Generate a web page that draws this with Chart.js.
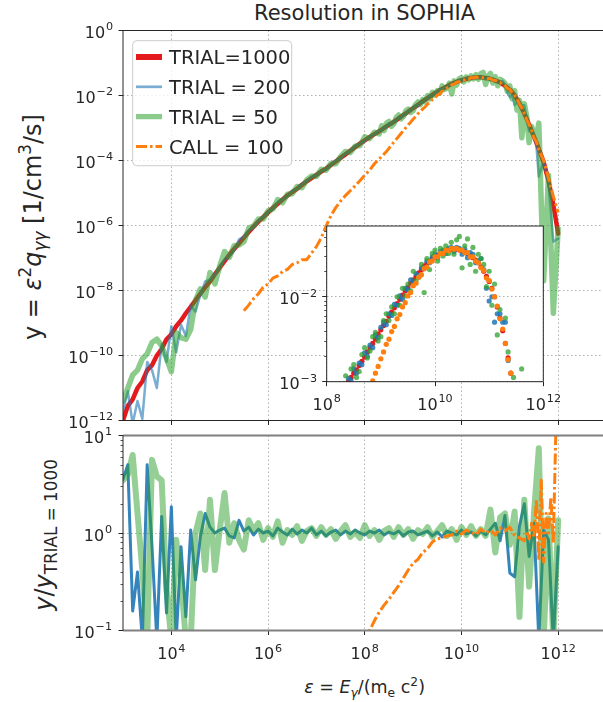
<!DOCTYPE html>
<html>
<head>
<meta charset="utf-8">
<script src="https://cdn.jsdelivr.net/npm/chart.js@4.4.1/dist/chart.umd.min.js"></script>
<style>
html,body{margin:0;padding:0;background:#fff;}
body{width:603px;height:702px;overflow:hidden;position:relative;font-family:"DejaVu Sans",sans-serif;color:#262626;}
canvas{position:absolute;}
.lbl{position:absolute;white-space:nowrap;line-height:1;}
.rot{transform:translate(-50%,-50%) rotate(-90deg);}
.sup{font-size:70%;position:relative;top:-0.6em;}
.sub{font-size:70%;position:relative;top:0.3em;}
</style>
</head>
<body>
<div class="lbl" style="left:364.6px;top:3.2px;font-size:21px;transform:translateX(-50%);">Resolution in SOPHIA</div>
<div class="lbl rot" style="left:33px;top:227px;font-size:24px;">y = <i>ε</i><span class="sup">2</span><i>q</i><span class="sub"><i>γγ</i></span> [1/cm<span class="sup">3</span>/s]</div>
<div class="lbl rot" style="left:44px;top:535px;font-size:24px;"><i>y</i>/<i>y</i><span class="sub">TRIAL = 1000</span></div>
<div class="lbl" style="left:364.6px;top:679.2px;font-size:17.5px;transform:translateX(-50%);"><i>ε</i> = <i>E</i><span class="sub"><i>γ</i></span>/(m<span class="sub">e</span> c<span class="sup">2</span>)</div>
<canvas id="cTop" width="650" height="440" style="left:0;top:0;"></canvas>
<canvas id="cBot" width="650" height="277" style="left:0;top:425px;"></canvas>
<canvas id="cIn" width="300" height="215" style="left:260px;top:210px;"></canvas>
<script>
// ---------------- data (log10 values) ----------------
const seriesLabels = ['TRIAL=1000', 'TRIAL = 200', 'TRIAL = 50', 'CALL = 100'];

const logEnergy = [3.0,3.1,3.2,3.3,3.4,3.5,3.6,3.7,3.8,3.9,4.0,4.1,4.2,4.3,4.4,4.5,4.6,4.7,4.8,4.9,
  5.0,5.1,5.2,5.3,5.4,5.5,5.6,5.7,5.8,5.9,6.0,6.1,6.2,6.3,6.4,6.5,6.6,6.7,6.8,6.9,
  7.0,7.1,7.2,7.3,7.4,7.5,7.6,7.7,7.8,7.9,8.0,8.1,8.2,8.3,
  8.35,8.4,8.45,8.5,8.55,8.6,8.65,8.7,8.75,8.8,8.85,8.9,8.95,9.0,
  9.05,9.1,9.15,9.2,9.25,9.3,9.35,9.4,9.45,9.5,9.55,9.6,9.65,9.7,9.75,9.8,9.85,9.9,9.95,10.0,
  10.05,10.1,10.15,10.2,10.25,10.3,10.35,10.4,10.45,10.5,10.55,10.6,10.65,10.7,10.75,10.8,10.85,10.9,10.95,11.0,
  11.05,11.1,11.15,11.2,11.25,11.3,11.35,11.4,11.45,11.5,11.55,11.6,
  11.7,11.8,11.9,12.0];

const logYTrial1000 = [-12.0,-11.55,-11.35,-11.0,-10.8,-10.45,-10.3,-10.0,-9.8,-9.5,-9.35,-9.1,-8.92,-8.7,-8.5,-8.3,-8.1,-7.9,-7.72,-7.5,
  -7.3,-7.1,-6.9,-6.72,-6.55,-6.37,-6.2,-6.04,-5.88,-5.74,-5.6,-5.46,-5.33,-5.2,-5.08,-4.97,-4.87,-4.75,-4.64,-4.54,
  -4.44,-4.34,-4.25,-4.14,-4.03,-3.92,-3.81,-3.7,-3.59,-3.48,-3.38,-3.28,-3.19,-3.1,
  -3.05,-3.0,-2.95,-2.9,-2.86,-2.81,-2.76,-2.71,-2.65,-2.6,-2.55,-2.5,-2.44,-2.39,
  -2.34,-2.29,-2.23,-2.18,-2.13,-2.08,-2.03,-1.98,-1.93,-1.89,-1.84,-1.8,-1.76,-1.72,-1.68,-1.64,-1.61,-1.58,-1.55,-1.53,
  -1.51,-1.49,-1.47,-1.46,-1.45,-1.44,-1.44,-1.44,-1.45,-1.46,-1.47,-1.49,-1.51,-1.54,-1.57,-1.6,-1.65,-1.7,-1.76,-1.82,
  -1.9,-2.0,-2.12,-2.25,-2.4,-2.55,-2.72,-2.9,-3.08,-3.27,-3.45,-3.65,
  -4.05,-4.62,-5.35,-6.25];

const logYTrial200 = [-11.7,-11.1,-12.1,-11.4,-11.95,-10.2,-10.45,-11.0,-9.65,-10.2,-9.1,-9.9,-9.05,-9.4,-8.47,-8.65,-8.13,-7.72,-7.67,-7.5,
  -7.27,-7.06,-6.93,-6.77,-6.43,-6.35,-6.15,-6.06,-5.85,-5.74,-5.58,-5.49,-5.28,-5.19,-5.1,-4.93,-4.88,-4.72,-4.64,-4.49,
  -4.46,-4.32,-4.28,-4.13,-4.0,-3.94,-3.79,-3.71,-3.56,-3.48,-3.4,-3.26,-3.19,-3.07,
  -3.09,-2.96,-2.99,-2.85,-2.9,-2.78,-2.8,-2.66,-2.7,-2.57,-2.6,-2.45,-2.48,-2.36,
  -2.3,-2.33,-2.2,-2.22,-2.09,-2.1,-1.99,-2.03,-1.9,-1.92,-1.8,-1.84,-1.73,-1.75,-1.66,-1.67,-1.58,-1.6,-1.53,-1.5,
  -1.54,-1.47,-1.45,-1.49,-1.43,-1.42,-1.47,-1.42,-1.43,-1.5,-1.44,-1.54,-1.48,-1.5,-1.6,-1.58,-1.55,-1.68,-1.9,-2.05,
  -2.0,-2.3,-2.2,-2.2,-2.3,-2.3,-2.75,-3.1,-3.05,-3.2,-3.55,-4.5,
  -4.0,-4.7,-6.5,-6.4];

const logYTrial50 = [-11.4,-11.0,-10.6,-10.45,-10.1,-9.95,-9.6,-9.5,-9.7,-10.1,-10.5,-9.3,-9.45,-9.5,-9.2,-8.3,-7.95,-8.2,-7.45,-7.8,
  -7.25,-6.8,-6.98,-6.62,-6.6,-6.5,-6.08,-6.02,-5.8,-5.8,-5.55,-5.49,-5.2,-5.3,-5.04,-5.02,-4.8,-4.84,-4.6,-4.48,
  -4.49,-4.27,-4.3,-4.09,-4.1,-3.88,-3.72,-3.76,-3.56,-3.54,-3.27,-3.33,-3.13,-3.18,
  -2.93,-3.08,-2.85,-2.8,-2.95,-2.88,-2.68,-2.6,-2.72,-2.64,-2.47,-2.42,-2.52,-2.47,
  -2.28,-2.2,-2.28,-2.12,-2.2,-2.0,-2.1,-1.9,-1.99,-1.85,-1.93,-1.7,-1.81,-1.77,-1.62,-1.95,-1.55,-1.68,-1.49,-1.45,
  -1.58,-1.43,-1.52,-1.4,-1.49,-1.36,-1.5,-1.33,-1.29,-1.66,-1.4,-1.32,-1.62,-1.42,-1.7,-1.5,-1.55,-1.62,-1.88,-1.7,
  -2.1,-1.85,-2.45,-2.15,-3.3,-2.25,-2.65,-3.45,-2.95,-3.15,-3.3,-2.85,
  -7.7,-4.45,-8.7,-6.1];

const logYCall100 = [null,null,null,null,null,null,null,null,null,null,null,null,null,null,null,null,null,null,null,null,
  null,null,null,null,null,-8.62,-8.45,-8.25,-8.1,-7.9,-7.8,-7.62,-7.55,-7.42,-7.35,-7.2,-7.15,-7.05,-7.05,-6.85,
  -6.65,-6.38,-6.02,-5.7,-5.45,-5.25,-5.08,-4.93,-4.78,-4.62,-4.45,-4.3,-4.1,-3.95,
  -3.87,-3.8,-3.72,-3.63,-3.53,-3.44,-3.35,-3.26,-3.17,-3.08,-2.99,-2.9,-2.82,-2.73,
  -2.65,-2.56,-2.5,-2.41,-2.35,-2.26,-2.21,-2.12,-2.07,-1.99,-1.95,-1.87,-1.84,-1.77,-1.74,-1.67,-1.65,-1.59,-1.58,-1.53,
  -1.53,-1.49,-1.49,-1.45,-1.46,-1.43,-1.44,-1.43,-1.45,-1.45,-1.48,-1.48,-1.53,-1.53,-1.58,-1.6,-1.66,-1.69,-1.78,-1.81,
  -1.91,-2.0,-2.11,-2.26,-2.38,-2.55,-2.74,-2.9,-3.05,-3.3,-3.42,-3.66,
  -4.0,-4.55,-5.1,-5.6];

// ratio panel (log10 of y / y_TRIAL=1000)
const logEnergyRatio = [3.0,3.1,3.2,3.3,3.4,3.5,3.6,3.7,3.8,3.9,4.0,4.1,4.2,4.3,4.4,4.5,4.6,4.7,4.8,4.9,
  5.0,5.1,5.2,5.3,5.4,5.5,5.6,5.7,5.8,5.9,6.0,6.1,6.2,6.3,6.4,6.5,6.6,6.7,6.8,6.9,
  7.0,7.1,7.2,7.3,7.4,7.5,7.6,7.7,7.8,7.9,8.0,8.1,8.2,8.3,8.4,8.5,8.6,8.7,8.8,8.9,
  9.0,9.1,9.2,9.3,9.4,9.5,9.6,9.7,9.8,9.9,10.0,10.1,10.2,10.3,10.4,10.5,10.6,10.7,10.8,10.9,
  11.0,11.1,11.2,11.3,11.4,11.5,11.6,11.7,11.8,11.9,12.0];

const logRatioTrial200 = [0.55,0.7,-0.8,-0.4,-1.1,0.7,-0.14,-1.1,0.17,-0.82,
  0.27,-1.1,-0.14,-0.86,0.03,-0.48,-0.04,0.2,0.06,0.0,
  0.03,0.05,-0.03,-0.05,0.13,0.02,0.06,-0.02,0.04,0.0,
  0.02,-0.03,0.05,0.01,-0.02,0.04,-0.01,0.03,0.0,0.05,
  -0.02,0.02,-0.03,0.01,0.03,-0.02,0.02,-0.01,0.03,0.0,
  -0.02,0.02,0.0,0.03,-0.02,0.01,-0.01,0.02,-0.03,0.01,
  0.02,-0.02,0.0,0.02,-0.03,0.01,-0.04,0.02,0.0,-0.02,
  0.03,-0.01,0.01,-0.03,0.02,-0.02,0.04,0.1,-0.08,0.18,
  -0.41,-0.45,0.07,0.3,-0.24,0.1,-1.1,0.03,-0.07,-1.1,
  -0.14];

const logRatioTrial50 = [0.54,0.6,0.8,0.2,-0.38,-1.1,0.75,0.58,0.54,-0.58,
  -1.1,-0.07,-0.48,-1.1,-1.1,0.0,0.2,-0.38,0.34,-0.38,
  0.03,0.41,-0.1,0.1,-0.07,-0.17,0.13,0.03,0.1,-0.07,
  0.05,-0.04,0.12,-0.1,0.03,-0.02,0.07,-0.08,0.02,0.05,
  -0.03,0.06,-0.02,0.04,-0.06,0.02,0.08,-0.04,0.01,-0.05,
  0.08,-0.03,0.03,-0.07,0.02,0.05,-0.04,0.06,-0.02,0.04,
  -0.06,0.03,-0.01,0.06,-0.04,0.02,0.08,-0.03,0.04,-0.07,
  0.06,-0.02,0.07,-0.03,0.04,-0.03,0.24,-0.2,0.16,0.2,
  -0.12,0.22,-0.86,0.34,-0.55,0.2,0.87,-1.1,0.15,-1.1,
  0.13];

const logEnergyRatioCall = [8.0,8.1,8.2,8.3,8.4,8.5,8.6,8.7,8.8,8.9,9.0,9.1,9.2,9.3,9.4,9.5,9.6,9.7,9.8,9.9,
  10.0,10.1,10.2,10.3,10.4,10.5,10.6,10.7,10.8,10.9,11.0,11.1,11.2,11.3,
  11.35,11.4,11.45,11.5,11.55,11.6,11.65,11.7,11.75,11.8,11.85,11.9,11.95,12.0];

const logRatioCall100 = [-1.15,-1.0,-0.9,-0.81,-0.74,-0.68,-0.61,-0.54,-0.46,-0.38,
  -0.31,-0.27,-0.2,-0.16,-0.09,-0.06,-0.05,-0.03,-0.02,0.02,
  -0.01,0.03,0.01,-0.02,0.04,0.0,0.03,-0.02,0.05,0.02,
  0.06,-0.03,-0.05,-0.08,
  0.02,-0.06,0.1,-0.05,0.34,-0.28,0.54,-0.3,0.2,0.0,0.37,-0.1,1.0,1.2];

// tick labels (exponents of ten) and minor tick positions
const xTickExps = [4, 6, 8, 10, 12];
const topYTickExps = [0, -2, -4, -6, -8, -10, -12];
const bottomYTickExps = [1, 0, -1];
const bottomYMinorTicks = [0.2,0.3,0.4,0.5,0.6,0.7,0.8,0.9,2,3,4,5,6,7,8,9];
const insetXTickExps = [8, 10, 12];
const insetYTickExps = [-2, -3];
const insetYMinorTicks = [0.002,0.003,0.004,0.005,0.006,0.007,0.008,0.009,0.02,0.03,0.04,0.05,0.06];

// ---------------- styling ----------------
const TEXT = '#262626';
const GRID = '#b0b0b0';
const C_RED = '#e41a1c';
const C_BLUE_TOP = 'rgba(31,119,180,0.6)';
const C_BLUE_BOT = 'rgba(31,119,180,0.9)';
const C_GREEN = 'rgba(44,160,44,0.55)';
const C_ORANGE = '#ff7f0e';
const DASHDOT = [11, 3, 2.5, 3];
const BASE_FONT = '16px "DejaVu Sans"';
const SUP_FONT = '11.2px "DejaVu Sans"';

function pts(xs, ys) {
  const out = [];
  xs.forEach((x, i) => { if (ys[i] !== null && ys[i] !== undefined) out.push({x: Math.pow(10, x), y: Math.pow(10, ys[i])}); });
  return out;
}
function decadeTicks(exps) { return s => { s.ticks = exps.map(e => ({value: Math.pow(10, e)})); }; }

function tickLabels(specs) {
  return { id: 'tickLabels', afterDraw(chart) {
    const ctx = chart.ctx; ctx.save(); ctx.fillStyle = TEXT; ctx.textAlign = 'left'; ctx.textBaseline = 'alphabetic';
    specs.forEach(sp => {
      const sc = chart.scales[sp.scale];
      sp.exps.forEach(e => {
        const p = sc.getPixelForValue(Math.pow(10, e));
        const b = '10', s = (e < 0 ? '\u2212' : '') + Math.abs(e);
        ctx.font = BASE_FONT; const wb = ctx.measureText(b).width;
        ctx.font = SUP_FONT; const ws = ctx.measureText(s).width;
        const w = wb + 0.8 + ws;
        let x0, yb;
        if (sp.axis === 'y') { x0 = sp.right - w; yb = p + 7.5; } else { x0 = p - w / 2; yb = sp.baseline; }
        ctx.font = BASE_FONT; ctx.fillText(b, x0, yb);
        ctx.font = SUP_FONT; ctx.fillText(s, x0 + wb + 0.8, yb - 7.6);
      });
    });
    ctx.restore();
  }};
}
function frame(sides) {
  return { id: 'frame', afterDatasetsDraw(chart) {
    const {left, top, right, bottom} = chart.chartArea; const ctx = chart.ctx; ctx.save(); ctx.setLineDash([]);
    sides.forEach(sd => {
      ctx.strokeStyle = sd.color; ctx.lineWidth = sd.width; ctx.beginPath();
      if (sd.side === 'top') { ctx.moveTo(left, top); ctx.lineTo(right, top); }
      if (sd.side === 'bottom') { ctx.moveTo(left, bottom); ctx.lineTo(right, bottom); }
      if (sd.side === 'left') { ctx.moveTo(left, top); ctx.lineTo(left, bottom); }
      if (sd.side === 'right') { ctx.moveTo(right, top); ctx.lineTo(right, bottom); }
      ctx.stroke();
    });
    ctx.restore();
  }};
}
function minorTicks(scaleId, vals, len) {
  return { id: 'minorTicks', afterDatasetsDraw(chart) {
    const sc = chart.scales[scaleId]; const x = chart.chartArea.left; const ctx = chart.ctx;
    ctx.save(); ctx.strokeStyle = TEXT; ctx.lineWidth = 0.8; ctx.setLineDash([]);
    vals.forEach(v => { const y = Math.round(sc.getPixelForValue(v)) + 0.5; ctx.beginPath(); ctx.moveTo(x - len, y); ctx.lineTo(x, y); ctx.stroke(); });
    ctx.restore();
  }};
}
function whiteArea() {
  return { id: 'whiteArea', beforeDraw(chart) {
    const {left, top, width, height} = chart.chartArea; chart.ctx.save(); chart.ctx.fillStyle = '#fff'; chart.ctx.fillRect(left, top, width, height); chart.ctx.restore();
  }};
}
const legendWidths = [6, 2.7, 5.3, 3];
const legendPlugin = { id: 'boxLegend', afterDraw(chart) {
  const ctx = chart.ctx; ctx.save();
  const bx = 132.7, by = 40.7, bw = 159, bh = 125, r = 4;
  ctx.beginPath();
  ctx.moveTo(bx + r, by); ctx.lineTo(bx + bw - r, by); ctx.arcTo(bx + bw, by, bx + bw, by + r, r);
  ctx.lineTo(bx + bw, by + bh - r); ctx.arcTo(bx + bw, by + bh, bx + bw - r, by + bh, r);
  ctx.lineTo(bx + r, by + bh); ctx.arcTo(bx, by + bh, bx, by + bh - r, r);
  ctx.lineTo(bx, by + r); ctx.arcTo(bx, by, bx + r, by, r); ctx.closePath();
  ctx.fillStyle = 'rgba(255,255,255,0.8)'; ctx.fill(); ctx.strokeStyle = '#cccccc'; ctx.lineWidth = 1; ctx.stroke();
  chart.data.datasets.forEach((ds, i) => {
    const cy = 57 + i * 29.8;
    ctx.beginPath(); ctx.setLineDash(ds.borderDash || []); ctx.lineCap = 'butt';
    ctx.strokeStyle = ds.borderColor; ctx.lineWidth = legendWidths[i];
    ctx.moveTo(136, cy); ctx.lineTo(162, cy); ctx.stroke();
    ctx.setLineDash([]); ctx.fillStyle = TEXT; ctx.font = '19.5px "DejaVu Sans"'; ctx.textAlign = 'left';
    ctx.fillText(ds.label, 169, cy + 7.1);
  });
  ctx.restore();
}};

function axisCommon(extra) {
  return Object.assign({
    type: 'logarithmic',
    ticks: {display: false},
    grid: {color: GRID, lineWidth: 1, tickLength: 4.5, tickColor: TEXT, tickWidth: 1},
    border: {display: false, dash: [1.5, 2.5]}
  }, extra);
}
const baseOpts = {
  responsive: false, animation: false, events: [], devicePixelRatio: 1,
  plugins: {legend: {display: false}, tooltip: {enabled: false}, title: {display: false}},
  elements: {point: {radius: 0}, line: {tension: 0, borderJoinStyle: 'round', borderCapStyle: 'round', fill: false}}
};

// ---------------- top panel ----------------
new Chart(document.getElementById('cTop'), {
  type: 'line',
  data: {datasets: [
    {label: seriesLabels[0], data: pts(logEnergy, logYTrial1000), borderColor: C_RED, borderWidth: 4.5, order: 4, clip: 0},
    {label: seriesLabels[1], data: pts(logEnergy, logYTrial200), borderColor: C_BLUE_TOP, borderWidth: 2.5, order: 3, clip: 0},
    {label: seriesLabels[2], data: pts(logEnergy, logYTrial50), borderColor: C_GREEN, borderWidth: 5.5, order: 2, clip: 0},
    {label: seriesLabels[3], data: pts(logEnergy, logYCall100), borderColor: C_ORANGE, borderWidth: 3, borderDash: DASHDOT, borderCapStyle: 'butt', order: 1, clip: 0}
  ]},
  options: Object.assign({}, baseOpts, {
    layout: {padding: {left: 0, top: 30.5, right: 43.5, bottom: 0}},
    scales: {
      x: axisCommon({min: 1e3, max: 1e13, afterBuildTicks: decadeTicks(xTickExps), afterFit: s => { s.height = 19.5; }}),
      y: axisCommon({min: 1e-12, max: 1, afterBuildTicks: decadeTicks(topYTickExps), afterFit: s => { s.width = 123; }})
    }
  }),
  plugins: [
    frame([{side: 'top', color: TEXT, width: 1}, {side: 'left', color: TEXT, width: 1}, {side: 'bottom', color: TEXT, width: 1}]),
    tickLabels([{scale: 'y', axis: 'y', exps: topYTickExps, right: 113}]),
    legendPlugin
  ]
});

// ---------------- ratio panel ----------------
new Chart(document.getElementById('cBot'), {
  type: 'line',
  data: {datasets: [
    {label: seriesLabels[1], data: pts(logEnergyRatio, logRatioTrial200), borderColor: C_BLUE_BOT, borderWidth: 3, order: 3, clip: 0},
    {label: seriesLabels[2], data: pts(logEnergyRatio, logRatioTrial50), borderColor: 'rgba(44,160,44,0.5)', borderWidth: 6, order: 2, clip: 0},
    {label: seriesLabels[3], data: pts(logEnergyRatioCall, logRatioCall100), borderColor: C_ORANGE, borderWidth: 3, borderDash: DASHDOT, borderCapStyle: 'butt', order: 1, clip: 0}
  ]},
  options: Object.assign({}, baseOpts, {
    layout: {padding: {left: 0, top: 10.5, right: 43.5, bottom: 0}},
    scales: {
      x: axisCommon({min: 1e3, max: 1e13, afterBuildTicks: decadeTicks(xTickExps), afterFit: s => { s.height = 71.5; }}),
      y: axisCommon({min: 0.1, max: 10, afterBuildTicks: decadeTicks(bottomYTickExps), afterFit: s => { s.width = 123; }})
    }
  }),
  plugins: [
    frame([{side: 'top', color: '#808080', width: 1.8}, {side: 'bottom', color: '#808080', width: 1.8}, {side: 'left', color: TEXT, width: 1}]),
    minorTicks('y', bottomYMinorTicks, 2.5),
    tickLabels([{scale: 'y', axis: 'y', exps: bottomYTickExps, right: 112}, {scale: 'x', axis: 'x', exps: xTickExps, baseline: 234.3}])
  ]
});

// ---------------- inset ----------------
new Chart(document.getElementById('cIn'), {
  type: 'scatter',
  data: {datasets: [
    {label: seriesLabels[0], data: pts(logEnergy, logYTrial1000), backgroundColor: C_RED, pointRadius: 2.6, pointBorderWidth: 0, order: 4, clip: 0},
    {label: seriesLabels[1], data: pts(logEnergy, logYTrial200), backgroundColor: 'rgba(31,119,180,0.85)', pointRadius: 2.6, pointBorderWidth: 0, order: 3, clip: 0},
    {label: seriesLabels[2], data: pts(logEnergy, logYTrial50), backgroundColor: 'rgba(44,160,44,0.75)', pointRadius: 2.6, pointBorderWidth: 0, order: 2, clip: 0},
    {label: seriesLabels[3], data: pts(logEnergy, logYCall100), backgroundColor: C_ORANGE, pointRadius: 2.6, pointBorderWidth: 0, order: 1, clip: 0}
  ]},
  options: Object.assign({}, baseOpts, {
    layout: {padding: {left: 0, top: 16, right: 16.7, bottom: 0}},
    scales: {
      x: axisCommon({min: 1e8, max: 1e12, afterBuildTicks: decadeTicks(insetXTickExps), afterFit: s => { s.height = 43.3; }}),
      y: axisCommon({min: 1e-3, max: 0.068, afterBuildTicks: decadeTicks(insetYTickExps), afterFit: s => { s.width = 66.7; }})
    }
  }),
  plugins: [
    whiteArea(),
    frame([{side: 'top', color: TEXT, width: 1}, {side: 'bottom', color: TEXT, width: 1}, {side: 'left', color: TEXT, width: 1}, {side: 'right', color: TEXT, width: 1}]),
    minorTicks('y', insetYMinorTicks, 2.5),
    tickLabels([{scale: 'y', axis: 'y', exps: insetYTickExps, right: 57}, {scale: 'x', axis: 'x', exps: insetXTickExps, baseline: 200}])
  ]
});
</script>
</body>
</html>
